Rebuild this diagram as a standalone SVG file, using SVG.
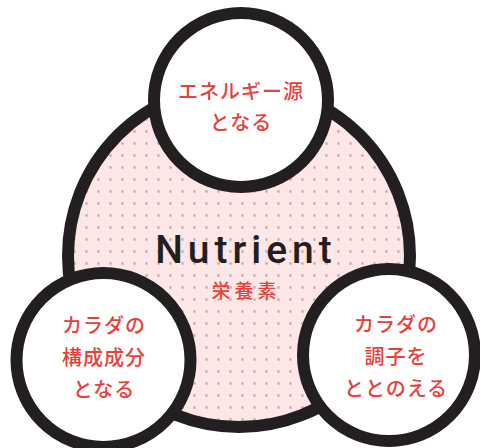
<svg xmlns="http://www.w3.org/2000/svg" width="480" height="448" viewBox="0 0 480 448">
<defs>
<pattern id="dots" x="0" y="0" width="12" height="12" patternUnits="userSpaceOnUse">
<rect width="12" height="12" fill="#fde7e6"/>
<circle cx="2.5" cy="11.5" r="1.4" fill="#c9b2b4"/>
<circle cx="2.5" cy="-0.5" r="1.4" fill="#c9b2b4"/>
</pattern>
<style>
.ring{stroke:#231f20;stroke-width:12;}
.sub{fill:#fff;}
.jp{font-family:"Noto Sans CJK JP","Noto Sans",sans-serif;font-size:20px;font-weight:500;fill:#e8413c;text-anchor:middle;letter-spacing:1px;}
.title{font-family:Roboto,"Noto Sans",sans-serif;font-size:39px;font-weight:500;fill:#231f20;text-anchor:middle;letter-spacing:5px;}
.kanji{font-family:"Noto Sans CJK JP",sans-serif;font-size:19px;font-weight:500;fill:#e8413c;text-anchor:middle;letter-spacing:4px;}
</style>
</defs>
<g id="nutrient">
<circle class="ring" cx="239" cy="256" r="171" fill="url(#dots)"/>
<text class="title" x="246" y="263">Nutrient</text>
<text class="kanji" x="246" y="298">栄養素</text>
</g>
<g id="connectors"></g>
<g id="energy">
<circle class="ring sub" cx="241" cy="100" r="87"/>
<text class="jp" x="241" y="99">エネルギー源</text>
<text class="jp" x="241" y="130">となる</text>
</g>
<g id="body">
<circle class="ring sub" cx="103.5" cy="360" r="87"/>
<text class="jp" x="104" y="333">カラダの</text>
<text class="jp" x="104" y="365">構成成分</text>
<text class="jp" x="104" y="397">となる</text>
</g>
<g id="regulate">
<circle class="ring sub" cx="389" cy="355" r="86"/>
<text class="jp" x="396" y="332">カラダの</text>
<text class="jp" x="396" y="364">調子を</text>
<text class="jp" x="396" y="396">ととのえる</text>
</g>
</svg>
